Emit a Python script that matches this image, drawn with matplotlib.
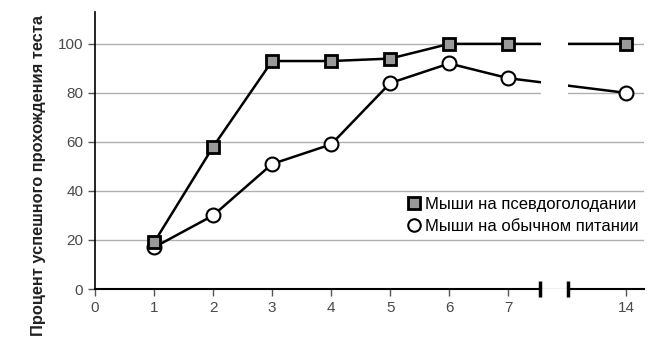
import matplotlib.pyplot as plt
from matplotlib.patches import Rectangle

plt.rcParams['font.family'] = ['Liberation Sans', 'DejaVu Sans']

# days of the test; day 14 sits right after the axis break
days = [1, 2, 3, 4, 5, 6, 7, 14]
day_pos = [1, 2, 3, 4, 5, 6, 7, 9]
fasting = [19, 58, 93, 93, 94, 100, 100, 100]
normal = [17, 30, 51, 59, 84, 92, 86, 80]

x_ticks = [0, 1, 2, 3, 4, 5, 6, 7, 9]
x_labels = ["0", "1", "2", "3", "4", "5", "6", "7", "14"]
y_ticks = [0, 20, 40, 60, 80, 100]

fig = plt.figure(figsize=(6.54, 3.51), dpi=100)
ax = fig.add_axes([0.1453, 0.1766, 0.8394, 0.7892])

ax.plot(day_pos, normal, color="black", lw=1.8, marker="o", markersize=10,
        markerfacecolor="white", markeredgecolor="black", markeredgewidth=1.5,
        label="Мыши на обычном питании", zorder=3)
ax.plot(day_pos, fasting, color="black", lw=1.8, marker="s", markersize=9,
        markerfacecolor="#999999", markeredgecolor="black", markeredgewidth=2,
        label="Мыши на псевдоголодании", zorder=4)

ax.set_xlim(0, 9.3)
ax.set_ylim(0, 113)
ax.set_xticks(x_ticks)
ax.set_xticklabels(x_labels)
ax.set_yticks(y_ticks)
ax.yaxis.grid(True, color="#b0b0b0", lw=1)
ax.set_axisbelow(True)

for s in ["top", "right", "bottom"]:
    ax.spines[s].set_visible(False)
ax.spines["left"].set_linewidth(1.2)

ax.tick_params(axis="both", direction="out", length=5, width=1, color="#555555",
               labelcolor="#4a4a4a", labelsize=11)

# broken x axis
brk_l, brk_r = 7.54, 8.02
ax.plot([0, brk_l], [0, 0], color="black", lw=1.5, clip_on=False, zorder=6)
ax.plot([brk_r, 9.3], [0, 0], color="black", lw=1.5, clip_on=False, zorder=6)
ax.plot([brk_l, brk_r], [0, 0], ls="none", marker="|", markersize=11,
        markeredgewidth=2.5, color="black", clip_on=False, zorder=6)
ax.add_patch(Rectangle((brk_l + 0.01, 78), brk_r - brk_l - 0.02, 27,
                       facecolor="white", edgecolor="none", zorder=5))

ax.set_ylabel("Процент успешного прохождения теста", fontsize=11.8,
              fontweight="bold", color="#222222")
ax.yaxis.set_label_coords(-0.09, 0.41)

handles, labels = ax.get_legend_handles_labels()
leg = ax.legend(handles[::-1], labels[::-1], loc="lower right",
                bbox_to_anchor=(1.018, 0.145), frameon=False, fontsize=12,
                handletextpad=0.2, labelspacing=0.4, handlelength=1.0,
                markerscale=0.9)
for h in leg.legend_handles:
    h.set_linestyle("none")

fig.savefig("out.png", dpi=100)
